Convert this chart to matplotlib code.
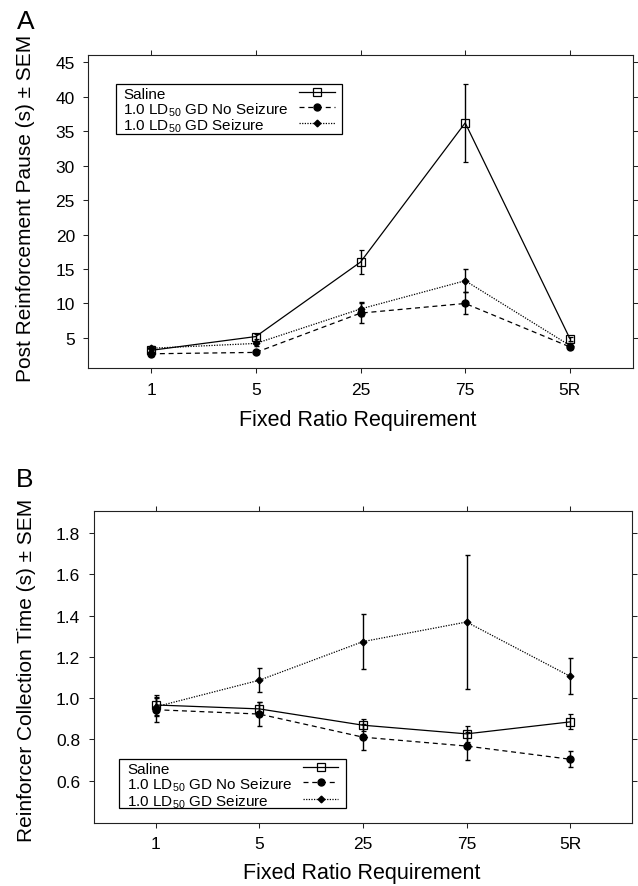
import numpy as np
import matplotlib.pyplot as plt
from matplotlib.patches import Rectangle
from matplotlib.lines import Line2D

plt.rcParams['font.family'] = ['Liberation Sans', 'DejaVu Sans']
plt.rcParams['mathtext.default'] = 'regular'

ratios = ['1', '5', '25', '75', '5R']
groups = ['Saline', '1.0 LD$_{50}$ GD No Seizure', '1.0 LD$_{50}$ GD Seizure']

# post reinforcement pause (s), mean and SEM
pause_saline = [3.2, 5.2, 16.0, 36.2, 4.9]
pause_saline_sem = [0.3, 0.4, 1.7, 5.7, 0.3]
pause_noseiz = [2.7, 2.9, 8.6, 10.0, 3.7]
pause_noseiz_sem = [0.3, 0.3, 1.5, 1.6, 0.3]
pause_seiz = [3.5, 4.2, 9.2, 13.3, 3.9]
pause_seiz_sem = [0.3, 0.4, 1.0, 1.7, 0.3]

# reinforcer collection time (s), mean and SEM
collect_saline = [0.967, 0.948, 0.869, 0.827, 0.885]
collect_saline_sem = [0.05, 0.035, 0.03, 0.038, 0.036]
collect_noseiz = [0.944, 0.923, 0.811, 0.768, 0.704]
collect_noseiz_sem = [0.06, 0.056, 0.064, 0.07, 0.038]
collect_seiz = [0.958, 1.087, 1.274, 1.369, 1.106]
collect_seiz_sem = [0.045, 0.058, 0.133, 0.323, 0.088]

styles = [
    dict(ls='-', marker='s', mfc='none', mec='black', ms=5.5, mew=0.9),
    dict(ls=(0, (4, 3)), marker='o', mfc='black', mec='black', ms=5),
    dict(ls=(0, (1, 1.1)), marker='D', mfc='black', mec='black', ms=3.4),
]


def draw_key(ax, box, rows_y, text_x, line_x):
    x0, y0, x1, y1 = box
    ax.add_patch(Rectangle((x0, y0), x1 - x0, y1 - y0, transform=ax.transAxes,
                           fill=False, lw=0.9, ec='black', zorder=6))
    xs = [line_x[0], (line_x[0] + line_x[1]) / 2, line_x[1]]
    for label, st, y in zip(groups, styles, rows_y):
        ax.text(text_x, y, label, transform=ax.transAxes, fontsize=11,
                ha='left', va='center_baseline', zorder=7)
        ax.add_line(Line2D(xs, [y, y, y], transform=ax.transAxes, color='black',
                           lw=0.9, markevery=[1], zorder=7, **st))


def panel(ax, means, sems, yticks, ylim, fmt):
    x = np.arange(1, len(ratios) + 1)
    for m, s, st in zip(means, sems, styles):
        ax.errorbar(x, m, yerr=s, color='black', lw=0.9, elinewidth=1.0,
                    capsize=1.8, capthick=1.0, **st)
    ax.set_xlim(0.4, 5.6)
    ax.set_ylim(*ylim)
    ax.set_xticks(x)
    ax.set_xticklabels(ratios)
    ax.set_yticks(yticks)
    ax.set_yticklabels([fmt % v for v in yticks])
    ax.tick_params(direction='out', length=3.6, width=0.75, top=True, right=True,
                   labeltop=False, labelright=False, labelsize=12.5, pad=6,
                   color='#222222')
    for sp in ax.spines.values():
        sp.set_linewidth(0.8)
        sp.set_color('#222222')


fig = plt.figure(figsize=(6.38, 8.87), dpi=100)

axA = fig.add_axes([0.1384, 0.5837, 0.8533, 0.3532])
panel(axA, [pause_saline, pause_noseiz, pause_seiz],
      [pause_saline_sem, pause_noseiz_sem, pause_seiz_sem],
      np.arange(5, 50, 5), (0.6, 46.05), '%d')
axA.text(-0.1154, 0.512, 'Post Reinforcement Pause (s) \u00b1 SEM', transform=axA.transAxes,
         rotation=90, ha='center', va='center', fontsize=15)
axA.text(0.4954, -0.165, 'Fixed Ratio Requirement', transform=axA.transAxes,
         ha='center', va='center', fontsize=15.5)
draw_key(axA, (0.0503, 0.7478, 0.4655, 0.9074), [0.881, 0.833, 0.782], 0.0637, (0.387, 0.453))

axB = fig.add_axes([0.1466, 0.0710, 0.8445, 0.3518])
panel(axB, [collect_saline, collect_noseiz, collect_seiz],
      [collect_saline_sem, collect_noseiz_sem, collect_seiz_sem],
      np.round(np.arange(0.6, 1.81, 0.2), 1), (0.395, 1.907), '%.1f')
axB.text(-0.125, 0.492, 'Reinforcer Collection Time (s) \u00b1 SEM', transform=axB.transAxes,
         rotation=90, ha='center', va='center', fontsize=15)
axB.text(0.498, -0.160, 'Fixed Ratio Requirement', transform=axB.transAxes,
         ha='center', va='center', fontsize=15.5)
draw_key(axB, (0.0473, 0.048, 0.4686, 0.205), [0.179, 0.131, 0.077], 0.063, (0.389, 0.454))

fig.text(17 / 638, 1 - 29 / 887, 'A', fontsize=19, va='baseline')
fig.text(16 / 638, 1 - 487 / 887, 'B', fontsize=19, va='baseline')

fig.savefig('out.png', dpi=100)
